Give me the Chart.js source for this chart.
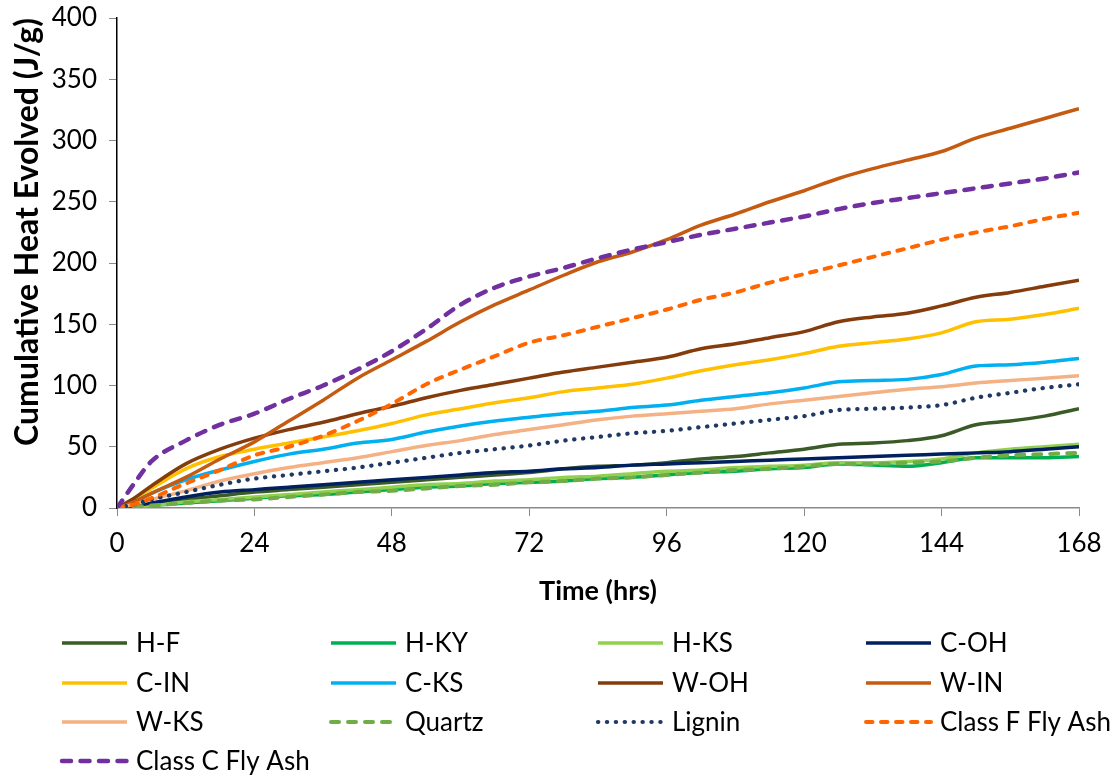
<!DOCTYPE html>
<html>
<head>
<meta charset="utf-8">
<title>Cumulative Heat Evolved</title>
<script src="https://cdn.jsdelivr.net/npm/chart.js@4.4.0/dist/chart.umd.min.js"></script>
<style>
  html, body { margin: 0; padding: 0; background: #fff; }
  #wrap { width: 1116px; height: 778px; position: relative; }
</style>
</head>
<body>
<div id="wrap"><canvas id="heat-chart"></canvas></div>
<script>
// sampling times (hrs)
const hours = [0, 3, 6, 12, 18, 24, 30, 36, 42, 48, 54, 60, 66, 72, 78, 84, 90, 96, 102, 108, 114, 120, 126, 132, 138, 144, 150, 156, 162, 168];

// cumulative heat (J/g) per mix
const hF     = [0, 1, 3, 7, 10, 13, 15, 17, 19, 21, 23, 25, 27, 29, 32, 34, 35, 37, 40, 42, 45, 48, 52, 53, 55, 59, 68, 71, 75, 81];
const hKY    = [0, 1, 2, 4, 6, 8, 10, 11, 13, 15, 17, 18, 20, 21, 22, 24, 25, 27, 29, 30, 32, 33, 36, 35, 34, 37, 41, 41, 41, 42];
const hKS    = [0, 1, 2, 5, 7, 9, 11, 13, 15, 17, 19, 20, 22, 23, 25, 26, 28, 30, 31, 33, 34, 35, 37, 37, 38, 40, 45, 48, 50, 52];
const cOH    = [0, 2, 4, 9, 13, 15, 17, 19, 21, 23, 25, 27, 29, 30, 32, 33, 35, 36, 37, 38, 39, 40, 41, 42, 43, 44, 45, 46, 48, 50];
const cIN    = [0, 7, 16, 32, 42, 48, 53, 58, 63, 69, 76, 81, 86, 90, 95, 98, 101, 106, 112, 117, 121, 126, 132, 135, 138, 143, 152, 154, 158, 163];
const cKS    = [0, 5, 12, 23, 31, 38, 44, 48, 53, 56, 62, 67, 71, 74, 77, 79, 82, 84, 88, 91, 94, 98, 103, 104, 105, 109, 116, 117, 119, 122];
const wOH    = [0, 8, 18, 36, 48, 57, 64, 70, 77, 83, 90, 96, 101, 106, 111, 115, 119, 123, 130, 134, 139, 144, 152, 156, 159, 165, 172, 176, 181, 186];
const wIN    = [0, 5, 12, 25, 40, 54, 71, 88, 106, 121, 136, 152, 166, 178, 190, 201, 209, 219, 231, 240, 250, 259, 269, 277, 284, 291, 302, 310, 318, 326];
const wKS    = [0, 3, 7, 14, 22, 28, 33, 37, 41, 46, 51, 55, 60, 64, 68, 72, 75, 77, 79, 81, 85, 88, 91, 94, 97, 99, 102, 104, 106, 108];
const quartz = [0, 1, 2, 4, 6, 7, 9, 11, 13, 14, 16, 18, 19, 21, 22, 24, 25, 27, 29, 31, 32, 34, 36, 36, 37, 38, 41, 43, 44, 45];
const lignin = [0, 3, 7, 13, 19, 24, 27, 30, 33, 37, 41, 45, 48, 51, 55, 58, 61, 63, 66, 69, 72, 75, 80, 81, 82, 84, 90, 94, 98, 101];
const flyF   = [0, 3, 8, 20, 31, 43, 50, 59, 71, 85, 101, 113, 124, 135, 141, 148, 155, 162, 170, 176, 184, 191, 198, 205, 212, 219, 225, 230, 236, 241];
const flyC   = [0, 20, 38, 55, 68, 77, 89, 100, 113, 128, 146, 166, 180, 189, 196, 204, 211, 217, 223, 228, 233, 238, 244, 249, 253, 257, 261, 265, 269, 274];

const xTicks = [0, 24, 48, 72, 96, 120, 144, 168];

function pts(values) {
    return values.map((v, i) => ({ x: hours[i], y: v }));
}

function series(label, values, color, width, dash) {
    return {
        label: label,
        data: pts(values),
        borderColor: color,
        backgroundColor: color,
        borderWidth: width,
        borderDash: dash || [],
        borderCapStyle: dash ? 'round' : 'butt',
        pointRadius: 0,
        tension: 0.4,
        cubicInterpolationMode: 'monotone',
        fill: false
    };
}

const datasets = [
    series('H-F', hF, '#3A5A27', 3.5),
    series('H-KY', hKY, '#00B050', 3.5),
    series('H-KS', hKS, '#92D050', 3.5),
    series('C-OH', cOH, '#002060', 3.5),
    series('C-IN', cIN, '#FFC000', 3.5),
    series('C-KS', cKS, '#00B0F0', 3.5),
    series('W-OH', wOH, '#843C0C', 3.5),
    series('W-IN', wIN, '#C55A11', 3.5),
    series('W-KS', wKS, '#F4B183', 3.5),
    series('Quartz', quartz, '#70AD47', 4, [8, 9]),
    series('Lignin', lignin, '#203864', 4.2, [0.3, 8.6]),
    series('Class F Fly Ash', flyF, '#FF6600', 4, [6.5, 8.5]),
    series('Class C Fly Ash', flyC, '#7030A0', 4.5, [9, 9.5])
];
// later series sit on top
datasets.forEach((ds, i) => { ds.order = datasets.length - i; });

// four-column legend under the plot
const gridLegend = {
    id: 'gridLegend',
    afterDraw(chart) {
        const ctx = chart.ctx;
        const cols = [60, 329, 596, 864];
        const rows = [643, 683, 722, 761];
        ctx.save();
        ctx.font = '26px Lato';
        ctx.textBaseline = 'middle';
        ctx.fillStyle = '#000';
        chart.data.datasets.forEach((ds, i) => {
            const x = cols[i % 4];
            const y = rows[Math.floor(i / 4)];
            ctx.beginPath();
            ctx.strokeStyle = ds.borderColor;
            ctx.lineWidth = ds.borderWidth;
            ctx.lineCap = ds.borderCapStyle;
            ctx.setLineDash(ds.borderDash);
            ctx.moveTo(x + 2, y);
            ctx.lineTo(x + 67, y);
            ctx.stroke();
            ctx.setLineDash([]);
            ctx.fillText(ds.label, x + 76, y + 1);
        });
        ctx.restore();
    }
};

new Chart(document.getElementById('heat-chart'), {
    type: 'line',
    data: { datasets: datasets },
    plugins: [gridLegend],
    options: {
        responsive: true,
        maintainAspectRatio: false,
        animation: false,
        layout: { padding: { top: 18, right: 37, bottom: 171, left: 0 } },
        plugins: {
            legend: { display: false },
            tooltip: { enabled: false }
        },
        scales: {
            x: {
                type: 'linear',
                min: 0,
                max: 168,
                afterBuildTicks(scale) {
                    scale.ticks = xTicks.map(v => ({ value: v }));
                },
                afterFit(scale) {
                    scale.height = 99;
                    scale.paddingLeft = 0;
                    scale.paddingRight = 0;
                },
                grid: { drawOnChartArea: false, color: '#898989', tickLength: 8 },
                border: { color: '#898989', width: 1.5 },
                ticks: { color: '#000', font: { family: 'Lato', size: 26 }, padding: 12, maxRotation: 0 },
                title: {
                    display: true,
                    text: 'Time (hrs)',
                    color: '#000',
                    font: { family: 'Lato', size: 27, weight: 'bold' },
                    padding: { top: 0, bottom: 0 }
                }
            },
            y: {
                min: 0,
                max: 400,
                afterFit(scale) {
                    scale.width = 117;
                    scale.paddingTop = 0;
                    scale.paddingBottom = 0;
                },
                grid: { drawOnChartArea: false, color: '#898989', tickLength: 8 },
                border: { color: '#000', width: 1.5 },
                ticks: { stepSize: 50, color: '#000', font: { family: 'Lato', size: 26 }, padding: 12 },
                title: {
                    display: true,
                    text: 'Cumulative Heat Evolved (J/g)',
                    align: 'end',
                    color: '#000',
                    font: { family: 'Lato', size: 32, weight: 'bold' },
                    padding: { top: 8, bottom: 0 }
                }
            }
        }
    }
});
</script>
</body>
</html>
